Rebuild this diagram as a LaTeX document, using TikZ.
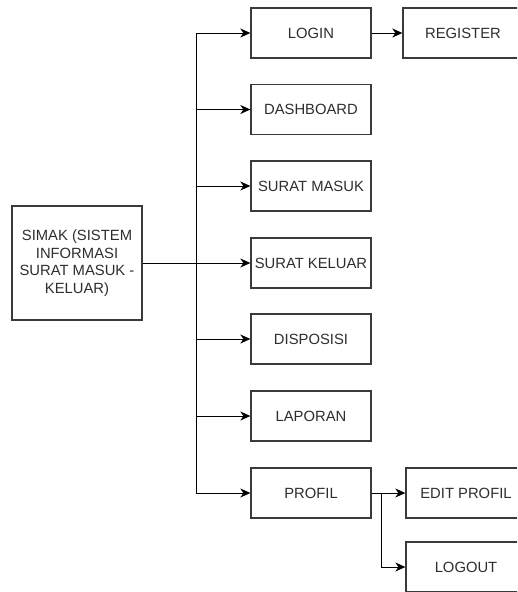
\documentclass[tikz,border=0pt]{standalone}
\usepackage{fontspec}
\setmainfont{Liberation Sans}
\usetikzlibrary{arrows.meta}
\definecolor{linec}{HTML}{3A3A3A}
\definecolor{textc}{HTML}{2E2E2E}
\begin{document}
\begin{tikzpicture}[x=1pt,y=-1pt,
  box/.style={draw=linec,line width=1.3pt,fill=white,minimum width=120pt,minimum height=50pt,inner sep=1pt,
    font=\fontsize{14.8}{17.5}\selectfont,text=textc,align=center},
  conn/.style={draw=black,line width=1pt,-{Stealth[length=10pt,width=9pt,inset=3pt]}},
  plain/.style={draw=black,line width=1pt}]
\useasboundingbox (0,0) rectangle (517,592);
\clip (0,0) rectangle (517,592);
\node[box,minimum width=130pt,minimum height=114pt] (simak) at (77,263) {SIMAK (SISTEM\\INFORMASI\\SURAT MASUK -\\KELUAR)};
\node[box] (login) at (311,33) {LOGIN};
\node[box] (dash) at (311,109.5) {DASHBOARD};
\node[box] (masuk) at (311,186) {SURAT MASUK};
\node[box] (keluar) at (311,263) {SURAT KELUAR};
\node[box] (dispo) at (311,339) {DISPOSISI};
\node[box] (lapor) at (311,416) {LAPORAN};
\node[box] (profil) at (311,493) {PROFIL};
\node[box] (reg) at (463,33) {REGISTER};
\node[box] (edit) at (466,493) {EDIT PROFIL};
\node[box] (logout) at (466,567) {LOGOUT};
\coordinate (trunk) at (196,263);
\coordinate (pbranch) at (381,493);
\draw[conn] (simak.east) -- (keluar.west);
\draw[conn] (trunk) |- (login.west);
\draw[conn] (trunk) |- (dash.west);
\draw[conn] (trunk) |- (masuk.west);
\draw[conn] (trunk) |- (dispo.west);
\draw[conn] (trunk) |- (lapor.west);
\draw[conn] (trunk) |- (profil.west);
\draw[conn] (login.east) -- (reg.west);
\draw[conn] (profil.east) -- (edit.west);
\draw[conn] (pbranch) |- (logout.west);
\end{tikzpicture}
\end{document}
